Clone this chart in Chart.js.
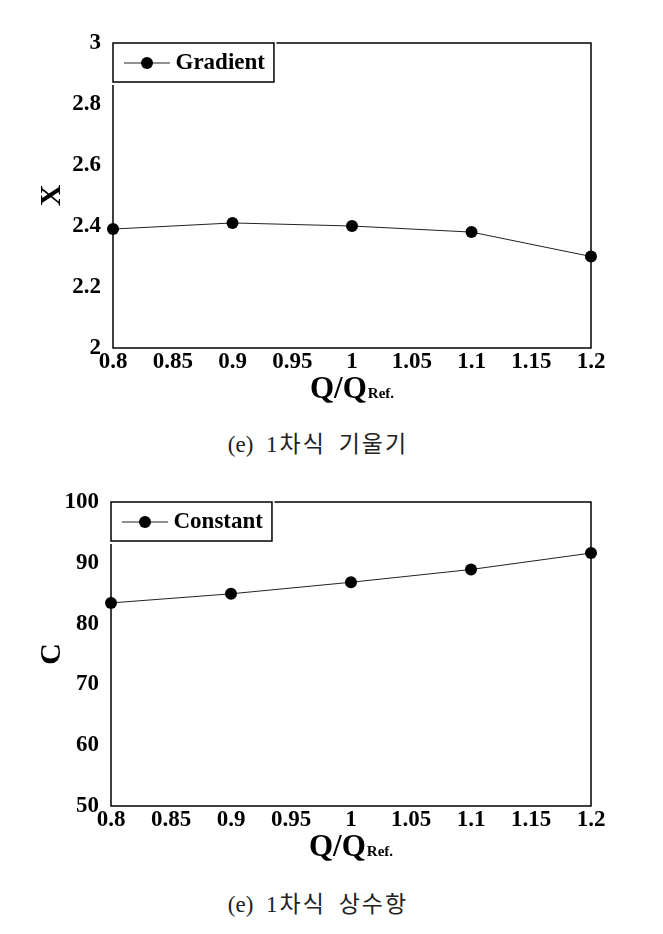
<!DOCTYPE html>
<html><head><meta charset="utf-8">
<script src="https://cdn.jsdelivr.net/npm/chart.js@4.4.0/dist/chart.umd.min.js"></script>
<style>
html,body{margin:0;padding:0;background:#fff;}
body{width:663px;height:934px;position:relative;overflow:hidden;}
.wrap{position:absolute;left:0;width:663px;height:420px;}
.cap{position:absolute;left:0;width:636px;text-align:center;font-family:"Liberation Serif","Noto Sans CJK KR",serif;font-size:23px;color:#222;line-height:26px;word-spacing:7px;white-space:pre;}
.cap .k{letter-spacing:2px;}
</style></head><body>
<div class="wrap" style="top:0px"><canvas id="c1" width="663" height="420"></canvas></div>
<div class="cap" style="top:432px">(e) <span class="k">1차식</span> <span class="k">기울기</span></div>
<div class="wrap" style="top:459px"><canvas id="c2" width="663" height="420"></canvas></div>
<div class="cap" style="top:892px">(e) <span class="k">1차식</span> <span class="k">상수항</span></div>
<script>
// ---- data ----
const xValues = [0.8, 0.9, 1.0, 1.1, 1.2];
const gradientValues = [2.39, 2.41, 2.40, 2.38, 2.30];
const constantValues = [83.4, 84.9, 86.8, 88.9, 91.6];
const xTickValues = [0.8, 0.85, 0.9, 0.95, 1.0, 1.05, 1.1, 1.15, 1.2];
const xTickLabels = ['0.8', '0.85', '0.9', '0.95', '1', '1.05', '1.1', '1.15', '1.2'];
const gradientTickValues = [2, 2.2, 2.4, 2.6, 2.8, 3];
const gradientTickLabels = ['2', '2.2', '2.4', '2.6', '2.8', '3'];
const constantTickValues = [50, 60, 70, 80, 90, 100];
const constantTickLabels = ['50', '60', '70', '80', '90', '100'];

const SERIF = '"Liberation Serif", "Times New Roman", serif';

const decor = {
  id: 'decor',
  beforeDatasetsDraw(chart) {
    const {ctx, chartArea: a} = chart;
    ctx.save();
    ctx.strokeStyle = '#000';
    ctx.lineWidth = 1.5;
    ctx.strokeRect(a.left, a.top, a.right - a.left, a.bottom - a.top);
    ctx.restore();
  },
  afterDraw(chart) {
    const o = chart.options.plugins.decor;
    const {ctx, chartArea: a} = chart;
    ctx.save();
    ctx.fillStyle = '#000';
    // y title
    ctx.save();
    ctx.font = 'bold 30px ' + SERIF;
    ctx.translate(o.yTitleX, (a.top + a.bottom) / 2);
    ctx.rotate(-Math.PI / 2);
    ctx.textAlign = 'center';
    ctx.textBaseline = 'middle';
    ctx.fillText(o.yTitle, 0, 0);
    ctx.restore();
    // x title Q/Q_Ref.
    ctx.font = 'bold 31px ' + SERIF;
    const w1 = ctx.measureText(o.xTitle).width;
    ctx.font = 'bold 15px ' + SERIF;
    const w2 = ctx.measureText(o.xTitleSub).width;
    const cx = (a.left + a.right) / 2;
    const x0 = cx - (w1 + 1 + w2) / 2;
    const base = a.bottom + 50;
    ctx.textAlign = 'left';
    ctx.textBaseline = 'alphabetic';
    ctx.font = 'bold 31px ' + SERIF;
    ctx.fillText(o.xTitle, x0, base);
    ctx.font = 'bold 15px ' + SERIF;
    ctx.fillText(o.xTitleSub, x0 + w1 + 1, base);
    // legend box
    const ds = chart.data.datasets[0];
    const left = a.left, top = a.top, h = 39;
    ctx.font = 'bold 23px ' + SERIF;
    const lx0 = left + 11, lx1 = lx0 + 46, cy = top + 20;
    const tx = lx1 + 5.5;
    const tw = ctx.measureText(ds.label).width;
    const right = tx + tw + 9;
    ctx.fillStyle = '#fff';
    ctx.fillRect(left - 1, top - 1, right - left + 3.5, h + 4);
    ctx.strokeStyle = '#000';
    ctx.lineWidth = 1.5;
    ctx.strokeRect(left, top, right - left, h);
    ctx.lineWidth = 1;
    ctx.strokeStyle = ds.borderColor;
    ctx.beginPath(); ctx.moveTo(lx0, cy); ctx.lineTo(lx1, cy); ctx.stroke();
    ctx.fillStyle = ds.pointBackgroundColor;
    ctx.beginPath(); ctx.arc((lx0 + lx1) / 2, cy, ds.pointRadius, 0, Math.PI * 2); ctx.fill();
    ctx.fillStyle = '#000';
    ctx.textBaseline = 'middle';
    ctx.fillText(ds.label, tx, cy);
    ctx.restore();
  }
};

function makeChart(id, label, yValues, yTicks, yLabels, yTitle, padLeft, padTop, padBottom) {
  const tickFont = {family: SERIF, size: 23, weight: 'bold'};
  return new Chart(document.getElementById(id), {
    type: 'line',
    data: {
      datasets: [{
        label: label,
        data: xValues.map((x, i) => ({x: x, y: yValues[i]})),
        borderColor: '#222',
        borderWidth: 1,
        pointRadius: 6,
        pointBackgroundColor: '#000',
        pointBorderWidth: 0,
        tension: 0,
        clip: false
      }]
    },
    options: {
      responsive: false,
      animation: false,
      devicePixelRatio: 1,
      layout: {padding: {left: padLeft, right: 72, top: padTop, bottom: padBottom}},
      plugins: {
        legend: {display: false},
        tooltip: {enabled: false},
        decor: {yTitle: yTitle, yTitleX: 52, xTitle: 'Q/Q', xTitleSub: 'Ref.'}
      },
      scales: {
        x: {
          type: 'linear',
          min: xTickValues[0],
          max: xTickValues[xTickValues.length - 1],
          afterBuildTicks: s => { s.ticks = xTickValues.map(v => ({value: v})); },
          afterFit: s => { s.height = 30; },
          ticks: {
            callback: (v, i) => xTickLabels[i],
            font: tickFont, color: '#000', padding: 0, autoSkip: false, maxRotation: 0
          },
          grid: {display: false, drawTicks: false},
          border: {display: false}
        },
        y: {
          type: 'linear',
          min: yTicks[0],
          max: yTicks[yTicks.length - 1],
          afterBuildTicks: s => { s.ticks = yTicks.map(v => ({value: v})); },
          afterFit: s => { s.width = 70; },
          ticks: {
            callback: (v, i) => yLabels[i],
            font: tickFont, color: '#000', padding: 12, autoSkip: false
          },
          grid: {display: false, drawTicks: false},
          border: {display: false}
        }
      }
    },
    plugins: [decor]
  });
}

makeChart('c1', 'Gradient', gradientValues, gradientTickValues, gradientTickLabels, 'X', 43, 43, 42);
makeChart('c2', 'Constant', constantValues, constantTickValues, constantTickLabels, 'C', 41, 43, 43);
</script>
</body></html>
